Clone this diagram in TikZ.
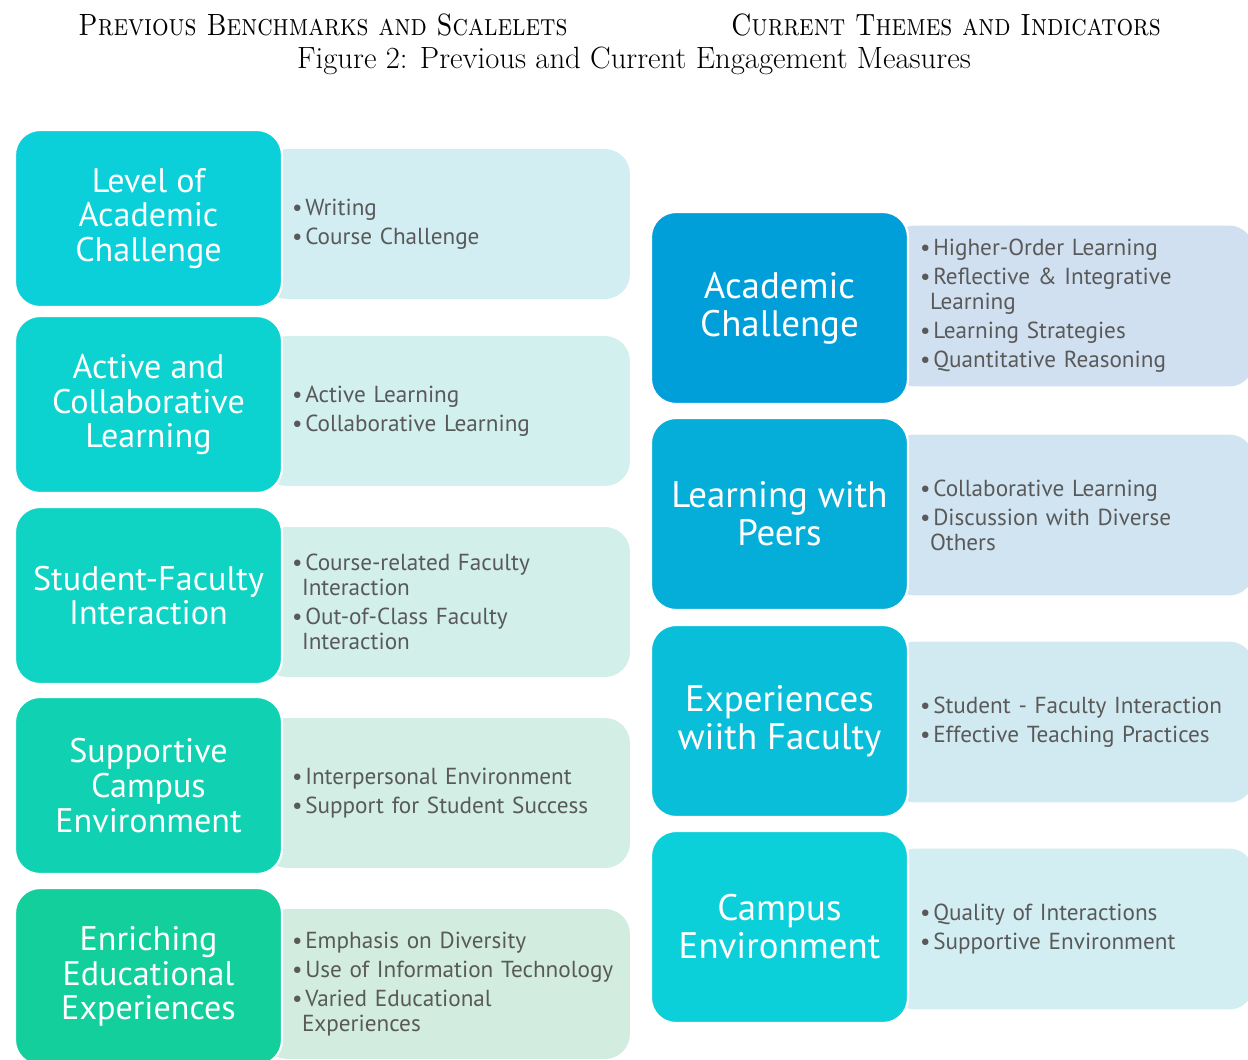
\documentclass[tikz,border=0pt]{standalone}
\usepackage{fontspec}
\setsansfont{PT Sans}
\usetikzlibrary{positioning}

% colours of the two columns
\definecolor{prevA}{HTML}{0BCFD9}
\definecolor{prevB}{HTML}{0CD3D0}
\definecolor{prevC}{HTML}{0FD3C3}
\definecolor{prevD}{HTML}{10D1B1}
\definecolor{prevE}{HTML}{12CF9B}
\definecolor{prevAl}{HTML}{D2EEF2}
\definecolor{prevBl}{HTML}{D2F0EE}
\definecolor{prevCl}{HTML}{D2EFEA}
\definecolor{prevDl}{HTML}{D2EEE5}
\definecolor{prevEl}{HTML}{D2EDE0}
\definecolor{currA}{HTML}{009FD9}
\definecolor{currB}{HTML}{04AED8}
\definecolor{currC}{HTML}{08BED8}
\definecolor{currD}{HTML}{0BCFD9}
\definecolor{currAl}{HTML}{D0E0F0}
\definecolor{currBl}{HTML}{D0E5F1}
\definecolor{currCl}{HTML}{D1EAF1}
\definecolor{currDl}{HTML}{D2EEF2}
\definecolor{itemgray}{HTML}{595959}

% one bullet line of an indicator list
\newcommand\bul[1]{\leftskip=0.44cm\hangindent=0.2cm\hangafter=1\parskip=2.3pt
  \textbullet\hspace{0.12em}#1\par}

\tikzset{
  head/.style={font=\fontsize{17.5}{20}\selectfont, inner sep=0pt},
  group/.style={rectangle, rounded corners=0.5cm, draw=white, line width=1.2pt,
    text=white, align=center, font=\sffamily\fontsize{19.4}{19.8}\selectfont},
  prevgroup/.style={group, minimum width=5.34cm, minimum height=3.54cm},
  currgroup/.style={group, minimum width=5.14cm, minimum height=3.84cm,
    font=\sffamily\fontsize{21}{21.6}\selectfont},
  measure/.style={rectangle, rounded corners=0.5cm, inner xsep=0.16cm,
    text=itemgray, align=left, text width=#1,
    font=\sffamily\fontsize{13.2}{14.2}\selectfont},
  prevmeasure/.style={measure=7.04cm, minimum height=3.0cm},
  currmeasure/.style={measure=6.96cm, minimum height=3.22cm}
}

\begin{document}
\begin{tikzpicture}[x=0.02cm,y=-0.02cm]

\path [use as bounding box] (0,0) rectangle (1248,1059);

% HEADINGS
\node[head] (prevhead) at (323,25) {\scalebox{0.85}[1]{\textsc{Previous Benchmarks and Scalelets}}};
\node[head] (currhead) at (946,25) {\scalebox{0.85}[1]{\textsc{Current Themes and Indicators}}};
\node[head] (caption) at (634,61) {Figure 2: Previous and Current Engagement Measures};

% PREVIOUS BENCHMARKS
\node[prevmeasure, fill=prevAl] (lacI) at (446,224)
  {\bul{Writing}\bul{Course Challenge}};
\node[prevmeasure, fill=prevBl] (aclI) at (446,411)
  {\bul{Active Learning}\bul{Collaborative Learning}};
\node[prevmeasure, fill=prevCl] (sfiI) at (446,602)
  {\bul{Course-related Faculty\newline Interaction}\bul{Out-of-Class Faculty\newline Interaction}};
\node[prevmeasure, fill=prevDl] (sceI) at (446,793)
  {\bul{Interpersonal Environment}\bul{Support for Student Success}};
\node[prevmeasure, fill=prevEl] (eeeI) at (446,984)
  {\bul{Emphasis on Diversity}\bul{Use of Information Technology}\bul{Varied Educational\newline Experiences}};

\node[prevgroup, fill=prevA] (lac) at (148.5,218.5) {Level of\\Academic\\Challenge};
\node[prevgroup, fill=prevB] (acl) at (148.5,404.5) {Active and\\Collaborative\\Learning};
\node[prevgroup, fill=prevC] (sfi) at (148.5,595.5) {Student-Faculty\\Interaction};
\node[prevgroup, fill=prevD] (sce) at (148.5,785.5) {Supportive\\Campus\\Environment};
\node[prevgroup, fill=prevE] (eee) at (148.5,976.5) {Enriching\\Educational\\Experiences};

% CURRENT THEMES
\node[currmeasure, fill=currAl] (acI) at (1072,306)
  {\bul{Higher-Order Learning}\bul{Reflective \& Integrative\newline Learning}\bul{Learning Strategies}\bul{Quantitative Reasoning}};
\node[currmeasure, fill=currBl] (lwpI) at (1072,515)
  {\bul{Collaborative Learning}\bul{Discussion with Diverse\newline Others}};
\node[currmeasure, fill=currCl] (ewfI) at (1072,722)
  {\bul{Student - Faculty Interaction}\bul{Effective Teaching Practices}};
\node[currmeasure, fill=currDl] (ceI) at (1072,929)
  {\bul{Quality of Interactions}\bul{Supportive Environment}};

\node[currgroup, fill=currA] (ac) at (779.5,308) {Academic\\Challenge};
\node[currgroup, fill=currB] (lwp) at (779.5,514) {Learning with\\Peers};
\node[currgroup, fill=currC] (ewf) at (779.5,721) {Experiences\\wiith Faculty};
\node[currgroup, fill=currD] (ce) at (779.5,927) {Campus\\Environment};

\end{tikzpicture}
\end{document}
